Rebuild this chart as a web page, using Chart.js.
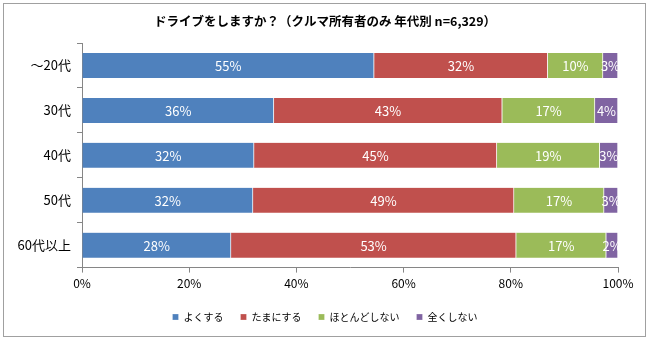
<!DOCTYPE html>
<html><head><meta charset="utf-8">
<script src="https://cdn.jsdelivr.net/npm/chart.js@4/dist/chart.umd.min.js"></script>
<style>html,body{margin:0;padding:0;background:#fff}#wrap{width:650px;height:340px}</style>
</head><body><div id="wrap"><canvas id="c" width="650" height="340"></canvas></div>
<script>
const categories = ['～20代','30代','40代','50代','60代以上'];
const seriesNames = ['よくする','たまにする','ほとんどしない','全くしない'];
const often = [54.5, 35.8, 32.1, 31.9, 27.8];
const sometimes = [32.4, 42.6, 45.3, 48.7, 53.2];
const rarely = [10.3, 17.3, 19.2, 16.8, 16.8];
const never = [2.8, 4.3, 3.4, 2.6, 2.2];
const xTicks = [0,20,40,60,80,100];
const colors = ['#4F81BD','#C0504D','#9BBB59','#8064A2'];
const FONT = '"Noto Sans CJK JP", "Noto Sans", sans-serif';

const frame = {
  id:'frame',
  beforeDraw(ch){const c=ch.ctx;c.save();c.fillStyle='#fff';c.fillRect(0,0,ch.width,ch.height);
    c.strokeStyle='#a0a0a0';c.lineWidth=1;c.strokeRect(3.5,3.5,642,333);c.restore();}
};
const labels = {
  id:'labels',
  afterDatasetsDraw(ch){const c=ch.ctx;const a=ch.chartArea;c.save();
    c.beginPath();c.rect(a.left,a.top,a.right-a.left,a.bottom-a.top);c.clip();
    c.fillStyle='#fff';c.font='13px '+FONT;c.textAlign='center';c.textBaseline='middle';
    ch.data.datasets.forEach((ds,i)=>{const m=ch.getDatasetMeta(i);
      m.data.forEach((el,j)=>{const p=el.getCenterPoint();c.fillText(Math.round(ds.data[j])+'%',p.x,p.y+1);});});
    c.restore();}
};
const data = {labels:categories, datasets:[often,sometimes,rarely,never].map((d,i)=>({
  label:seriesNames[i], data:d, backgroundColor:colors[i], borderColor:'#fff', borderWidth:{left:0,right:1,top:0,bottom:0}, borderSkipped:false,
  barThickness:25 }))};
new Chart(document.getElementById('c'),{
  type:'bar', data, plugins:[frame,labels],
  options:{indexAxis:'y', responsive:false, animation:false,
    layout:{padding:{left:0,right:0,top:0,bottom:8}},
    plugins:{
      title:{display:true,text:'ドライブをしますか？（クルマ所有者のみ 年代別 n=6,329）',color:'#000',
        font:{family:FONT,size:12.5,weight:'bold'},padding:{top:14,bottom:14}},
      legend:{position:'bottom',labels:{color:'#000',font:{family:FONT,size:10},boxWidth:6,boxHeight:6,padding:17}},
      tooltip:{enabled:false}},
    scales:{
      x:{stacked:true,min:0,max:100,afterBuildTicks(s){s.ticks=xTicks.map(v=>({value:v}));},
        ticks:{color:'#000',font:{family:FONT,size:12},padding:4,callback:v=>v+'%'},
        grid:{drawOnChartArea:false,color:'#868686',tickLength:5},border:{color:'#868686'}},
      y:{stacked:true,afterFit(s){s.width=82;},
        ticks:{color:'#000',font:{family:FONT,size:13},padding:6},
        grid:{drawOnChartArea:false,offset:true,color:'#868686',tickLength:5},border:{color:'#868686'}},
      yPad:{type:'category',position:'right',afterFit(s){s.width=32;},
        ticks:{display:false},grid:{display:false},border:{display:false}}
    }}
});
</script></body></html>
